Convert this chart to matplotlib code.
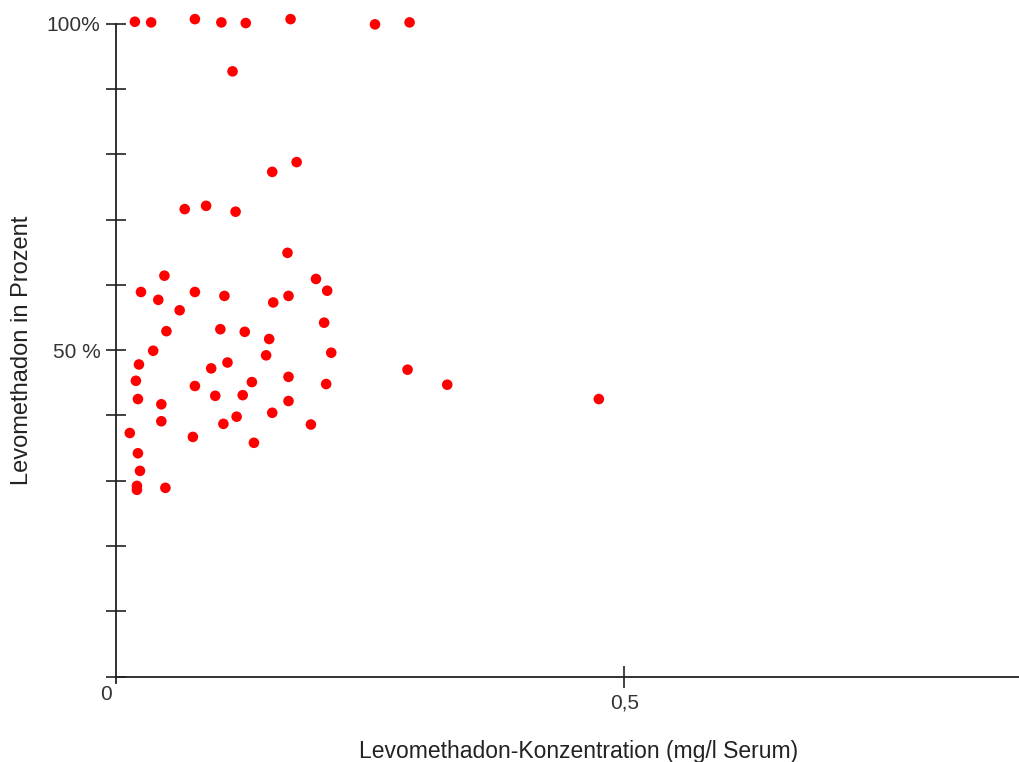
import matplotlib.pyplot as plt

# --- Data ---
konzentration = [
    0.019, 0.035, 0.078, 0.104, 0.128, 0.172, 0.255, 0.289,
    0.115, 0.154, 0.178, 0.068, 0.089, 0.118, 0.169, 0.048,
    0.197, 0.025, 0.078, 0.208, 0.042, 0.107, 0.170, 0.155,
    0.063, 0.205, 0.050, 0.103, 0.127, 0.151, 0.037, 0.212,
    0.148, 0.023, 0.110, 0.094, 0.020, 0.078, 0.134, 0.170,
    0.207, 0.022, 0.098, 0.125, 0.170, 0.045, 0.154, 0.045,
    0.119, 0.106, 0.192, 0.014, 0.076, 0.136, 0.022, 0.024,
    0.021, 0.021, 0.049, 0.287, 0.326, 0.475,
]
prozent = [
    100.3, 100.2, 100.7, 100.2, 100.1, 100.7, 99.9, 100.2,
    92.7, 77.3, 78.8, 71.6, 72.1, 71.2, 64.9, 61.4,
    60.9, 58.9, 58.9, 59.1, 57.7, 58.3, 58.3, 57.3,
    56.1, 54.2, 52.9, 53.2, 52.8, 51.7, 49.9, 49.6,
    49.2, 47.8, 48.1, 47.2, 45.3, 44.5, 45.1, 45.9,
    44.8, 42.5, 43.0, 43.1, 42.2, 41.7, 40.4, 39.1,
    39.8, 38.7, 38.6, 37.3, 36.7, 35.8, 34.2, 31.5,
    29.2, 28.6, 28.9, 47.0, 44.7, 42.5,
]

x_ticks = [0.5]
x_ticklabels = ["0,5"]
origin_label = "0"
y_ticks = [0, 10, 20, 30, 40, 50, 60, 70, 80, 90, 100]
y_ticklabels = ["", "", "", "", "", "50 %", "", "", "", "", "100%"]

plt.rcParams['font.family'] = ['Liberation Sans', 'DejaVu Sans']

fig = plt.figure(figsize=(10.19, 7.62), dpi=100)
ax = fig.add_axes([0.1134, 0.1122, 0.8866, 0.8567])

ax.scatter(konzentration, prozent, s=58, color='#ff0000', edgecolors='none',
           clip_on=False, zorder=3)

ax.set_xlim(0, 0.888)
ax.set_ylim(0, 100)

# only left and bottom axis lines
for side in ('top', 'right'):
    ax.spines[side].set_visible(False)
for side in ('left', 'bottom'):
    ax.spines[side].set_linewidth(1.3)
    ax.spines[side].set_color('#222222')
ax.spines['left'].set_bounds(-1, 100)

ax.set_xticks(x_ticks)
ax.set_xticklabels(x_ticklabels, fontsize=15, color='#333333')
ax.set_yticks(y_ticks)
ax.set_yticklabels(y_ticklabels, fontsize=15, color='#333333')
ax.tick_params(axis='y', direction='inout', length=14, width=1.2, pad=4,
               color='#222222')
ax.tick_params(axis='x', direction='inout', length=16, width=1.2, pad=4,
               color='#222222')

# the "0" at the origin sits left of and higher than the "0,5"
ax.annotate(origin_label, xy=(0, 0), xycoords='data', xytext=(-10, -8),
            textcoords='offset pixels', ha='center', va='top',
            fontsize=15, color='#333333', annotation_clip=False)

ax.set_xlabel("Levomethadon-Konzentration (mg/l Serum)", fontsize=16.5,
              color='#222222')
ax.xaxis.set_label_coords(0.512, -0.098)
ax.set_ylabel("Levomethadon in Prozent", fontsize=17, color='#222222')
ax.yaxis.set_label_coords(-0.091, 0.5)

fig.savefig("out.png", dpi=100)
